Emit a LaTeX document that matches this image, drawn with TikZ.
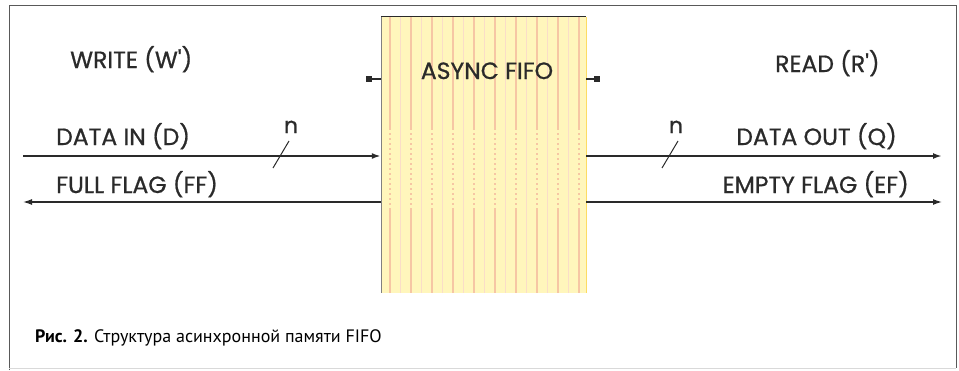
\documentclass[tikz,border=0pt]{standalone}
\usepackage{fontspec}
\setmainfont{Poppins}
\newfontfamily\labfont{Poppins}[FakeBold=0.8]
\newfontfamily\capfont{PT Sans}
\usetikzlibrary{arrows.meta}
\definecolor{txt}{HTML}{2A2A2A}
\definecolor{fifofill}{HTML}{FFF6BC}
\definecolor{stripe}{HTML}{F6C6A4}
\tikzset{
  lbl/.style={font=\labfont\fontsize{23.5}{24}\selectfont, text=txt, inner sep=0pt, anchor=base west},
  nlbl/.style={font=\labfont\fontsize{22}{22}\selectfont, text=txt, inner sep=0pt, anchor=base},
  sig/.style={draw=txt, line width=1.8pt},
  sigthin/.style={draw=txt, line width=1.3pt},
  tip/.style={-{Latex[length=9pt,width=6pt]}},
  clk/.style={draw=txt, line width=1.3pt, -{Square[length=6pt,width=6pt]}},
  fifobox/.style={fill=fifofill, draw=none, minimum width=205pt, minimum height=276pt, inner sep=0pt},
}
\begin{document}
\begin{tikzpicture}[x=1pt,y=-1pt]
\useasboundingbox (0,0) rectangle (959,370);
% outer frame
\draw[draw=gray!70!black, line width=0.8pt] (9,370) -- (9,5) -- (956,5) -- (956,368);
\draw[draw=gray!30, line width=0.8pt] (9,368) -- (956,368);
% FIFO box
\node[fifobox] (fifo) at (483.5,155) {};
\begin{scope}
  \clip (fifo.north west) rectangle (fifo.south east);
  \foreach \i in {0,...,19} {
    \pgfmathsetmacro{\xx}{390+\i*10.5}
    \ifodd\i
      \draw[stripe!60, line width=0.8pt] (\xx,17) -- (\xx,293);
    \else
      \draw[stripe, line width=1.2pt] (\xx,17) -- (\xx,128);
      \draw[stripe, line width=1.2pt, dash pattern=on 2pt off 3pt] (\xx,128) -- (\xx,210);
      \draw[stripe, line width=1.2pt] (\xx,210) -- (\xx,293);
    \fi
  }
\end{scope}
\draw[txt, line width=1.2pt] (fifo.north west) -- (fifo.north east);
\draw[gray, line width=0.6pt] (fifo.north west) -- (fifo.south west);
\draw[yellow!60!orange!60, line width=0.8pt] (fifo.north east) -- (fifo.south east);
\node[lbl, anchor=base] (title) at (487,79) {ASYNC FIFO};
% clock markers
\coordinate (wclk) at (366,79);
\coordinate (rclk) at (600,79);
\draw[clk] (wclk -| fifo.west) -- (wclk);
\draw[clk] (rclk -| fifo.east) -- (rclk);
% labels
\node[lbl] (write) at (70,68) {WRITE (W')};
\node[lbl] (read) at (775,72) {READ (R')};
\node[lbl] (din) at (56,145) {DATA IN (D)};
\node[lbl] (ff) at (56,193) {FULL FLAG (FF)};
\node[lbl, anchor=base east] (dout) at (897,145) {DATA OUT (Q)};
\node[lbl, anchor=base east] (ef) at (909,193) {EMPTY FLAG (EF)};
% signals
\coordinate (dinL) at (23,156);
\coordinate (ffL) at (23,202);
\coordinate (doutR) at (942,156);
\coordinate (efR) at (942,202);
\draw[sig, tip] (dinL) -- (dinL -| fifo.west);
\draw[sigthin, tip] (ffL -| fifo.west) -- (ffL);
\draw[sig, tip] (doutR -| fifo.east) -- (doutR);
\draw[sigthin, tip] (efR -| fifo.east) -- (efR);
% bus slashes
\coordinate (s1a) at (273,168); \coordinate (s1b) at (289,141);
\coordinate (s2a) at (662,168); \coordinate (s2b) at (678,141);
\draw[txt, line width=1pt] (s1a) -- (s1b);
\draw[txt, line width=1pt] (s2a) -- (s2b);
\node[nlbl] (n1) at (291,133) {n};
\node[nlbl] (n2) at (676,133) {n};
% caption
\node[anchor=base west, inner sep=0pt, text=black, font=\capfont\fontsize{18}{18}\selectfont] (cap) at (35,342) {\textbf{Рис. 2.} Структура асинхронной памяти FIFO};
\end{tikzpicture}
\end{document}
